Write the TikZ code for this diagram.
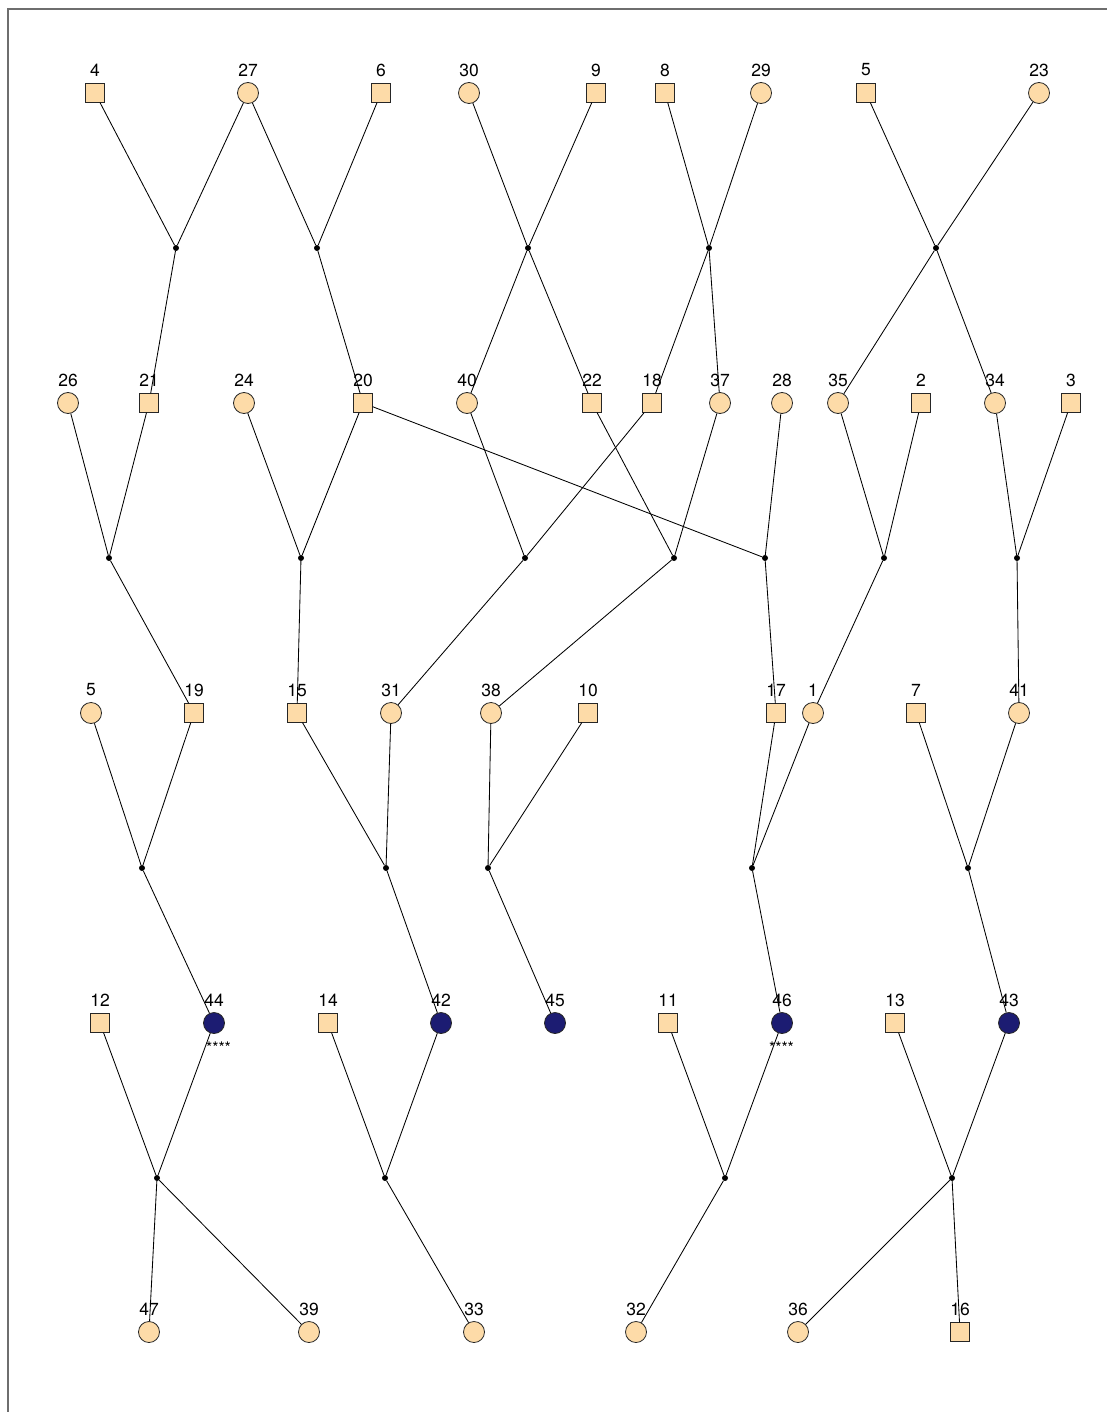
\documentclass[tikz,border=0pt]{standalone}
\usepackage{fontspec}
\setmainfont{TeX Gyre Heros}
\definecolor{peach}{HTML}{FDDBA8}
\definecolor{affblue}{HTML}{1C1C72}
\definecolor{framegray}{HTML}{6E6E6E}
\newcommand{\indiv}[5]{\node[#2] (#1) at (#3,#4) {}; \node[lab] (#1l) at (#3,#4-23) {#5};}
\begin{document}
\begin{tikzpicture}[x=1pt,y=-1pt,
  sq/.style={draw=black!85, line width=0.8pt, fill=peach, rectangle, minimum size=18.5pt, inner sep=0pt},
  ci/.style={draw=black!85, line width=0.8pt, fill=peach, circle, minimum size=21pt, inner sep=0pt},
  dk/.style={draw=black!85, line width=0.8pt, fill=affblue, circle, minimum size=21pt, inner sep=0pt},
  lab/.style={font=\fontsize{17.5}{18}\selectfont, inner sep=0pt},
  stars/.style={font=\fontsize{16}{16}\selectfont, inner sep=0pt},
  jn/.style={circle, fill=black, minimum size=6pt, inner sep=0pt},
  ln/.style={line width=0.85pt, black}]
\useasboundingbox (0,0) rectangle (1107,1412);
\draw[framegray, line width=1.3pt] (8,1412) -- (8,9) -- (1107,9);
% row 1
\indiv{n4}{sq}{95}{93}{4}
\indiv{n27}{ci}{248}{93}{27}
\indiv{n6}{sq}{381}{93}{6}
\indiv{n30}{ci}{469}{93}{30}
\indiv{n9}{sq}{596}{93}{9}
\indiv{n8}{sq}{665}{93}{8}
\indiv{n29}{ci}{761}{93}{29}
\indiv{n5a}{sq}{866}{93}{5}
\indiv{n23}{ci}{1039}{93}{23}
% row 2
\indiv{n26}{ci}{68}{403}{26}
\indiv{n21}{sq}{149}{403}{21}
\indiv{n24}{ci}{244}{403}{24}
\indiv{n20}{sq}{363}{403}{20}
\indiv{n40}{ci}{467}{403}{40}
\indiv{n22}{sq}{592}{403}{22}
\indiv{n18}{sq}{652}{403}{18}
\indiv{n37}{ci}{720}{403}{37}
\indiv{n28}{ci}{782}{403}{28}
\indiv{n35}{ci}{838}{403}{35}
\indiv{n2}{sq}{921}{403}{2}
\indiv{n34}{ci}{995}{403}{34}
\indiv{n3}{sq}{1071}{403}{3}
% row 3
\indiv{n5b}{ci}{91}{713}{5}
\indiv{n19}{sq}{194}{713}{19}
\indiv{n15}{sq}{297}{713}{15}
\indiv{n31}{ci}{391}{713}{31}
\indiv{n38}{ci}{491}{713}{38}
\indiv{n10}{sq}{588}{713}{10}
\indiv{n17}{sq}{776}{713}{17}
\indiv{n1}{ci}{813}{713}{1}
\indiv{n7}{sq}{916}{713}{7}
\indiv{n41}{ci}{1019}{713}{41}
% row 4
\indiv{n12}{sq}{100}{1023}{12}
\indiv{n44}{dk}{214}{1023}{44}
\indiv{n14}{sq}{328}{1023}{14}
\indiv{n42}{dk}{441}{1023}{42}
\indiv{n45}{dk}{555}{1023}{45}
\indiv{n11}{sq}{668}{1023}{11}
\indiv{n46}{dk}{782}{1023}{46}
\indiv{n13}{sq}{895}{1023}{13}
\indiv{n43}{dk}{1009}{1023}{43}
\node[stars] (s44) at (218.5,1048) {****};
\node[stars] (s46) at (781.5,1048) {****};
% row 5
\indiv{n47}{ci}{149}{1332}{47}
\indiv{n39}{ci}{309}{1332}{39}
\indiv{n33}{ci}{474}{1332}{33}
\indiv{n32}{ci}{636}{1332}{32}
\indiv{n36}{ci}{798}{1332}{36}
\indiv{n16}{sq}{960}{1332}{16}
% junctions
\node[jn] (m1) at (176,248) {};
\node[jn] (m2) at (317,248) {};
\node[jn] (m3) at (528,248) {};
\node[jn] (m4) at (709,248) {};
\node[jn] (m5) at (936,248) {};
\node[jn] (m6) at (109,558) {};
\node[jn] (m7) at (301,558) {};
\node[jn] (m8) at (525,558) {};
\node[jn] (m9) at (674,558) {};
\node[jn] (m10) at (765,558) {};
\node[jn] (m11) at (884,558) {};
\node[jn] (m12) at (1017,558) {};
\node[jn] (m13) at (142,868) {};
\node[jn] (m14) at (386,868) {};
\node[jn] (m15) at (488,868) {};
\node[jn] (m16) at (752,868) {};
\node[jn] (m17) at (968,868) {};
\node[jn] (m18) at (157,1178) {};
\node[jn] (m19) at (385,1178) {};
\node[jn] (m20) at (725,1178) {};
\node[jn] (m21) at (952,1178) {};
% connectors
\begin{scope}[ln]
\draw (n4) -- (m1) -- (n21); \draw (n27) -- (m1);
\draw (n27) -- (m2) -- (n20); \draw (n6) -- (m2);
\draw (n30) -- (m3) -- (n22); \draw (n9) -- (m3) -- (n40);
\draw (n8) -- (m4) -- (n37); \draw (n29) -- (m4) -- (n18);
\draw (n5a) -- (m5) -- (n34); \draw (n23) -- (m5) -- (n35);
\draw (n26) -- (m6) -- (n19); \draw (n21) -- (m6);
\draw (n24) -- (m7) -- (n15); \draw (n20) -- (m7);
\draw (n40) -- (m8) -- (n31); \draw (n18) -- (m8);
\draw (n22) -- (m9) -- (n38); \draw (n37) -- (m9);
\draw (n20) -- (m10) -- (n17); \draw (n28) -- (m10);
\draw (n35) -- (m11) -- (n1); \draw (n2) -- (m11);
\draw (n34) -- (m12) -- (n41); \draw (n3) -- (m12);
\draw (n5b) -- (m13) -- (n44); \draw (n19) -- (m13);
\draw (n15) -- (m14) -- (n42); \draw (n31) -- (m14);
\draw (n38) -- (m15) -- (n45); \draw (n10) -- (m15);
\draw (n17) -- (m16) -- (n46); \draw (n1) -- (m16);
\draw (n7) -- (m17) -- (n43); \draw (n41) -- (m17);
\draw (n12) -- (m18) -- (n47); \draw (n44) -- (m18) -- (n39);
\draw (n14) -- (m19) -- (n33); \draw (n42) -- (m19);
\draw (n11) -- (m20) -- (n32); \draw (n46) -- (m20);
\draw (n13) -- (m21) -- (n36); \draw (n43) -- (m21) -- (n16);
\end{scope}
\end{tikzpicture}
\end{document}
